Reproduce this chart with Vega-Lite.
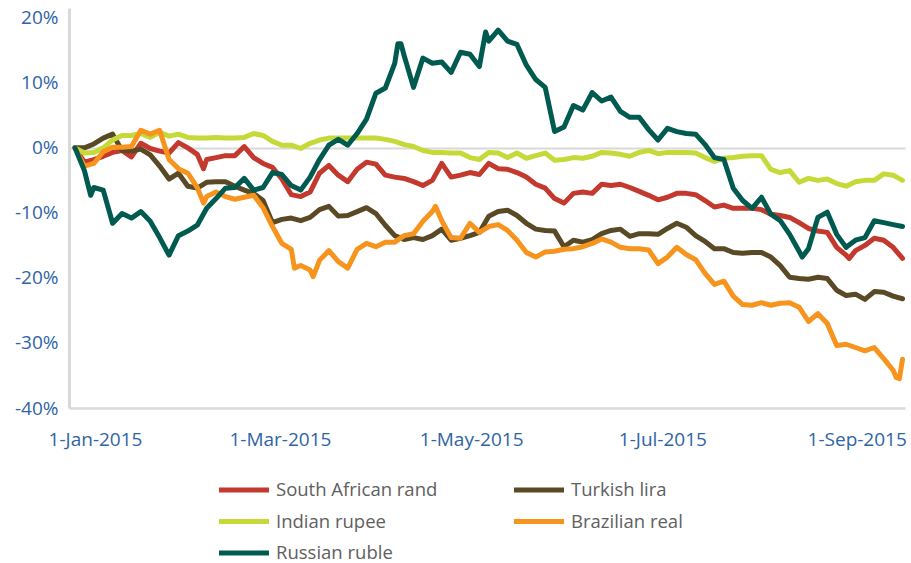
{
  "$schema": "https://vega.github.io/schema/vega-lite/v6.json",
  "autosize": {"type": "none"},
  "width": 836,
  "height": 400,
  "padding": {"left": 69, "top": 8, "right": 6, "bottom": 155},
  "background": "white",
  "config": {"view": {"stroke": null}, "font": "Open Sans"},
  "data": {"values": [
    {"date":"2015-01-01","South African rand":0,"Turkish lira":0,"Indian rupee":0,"Brazilian real":0,"Russian ruble":0},
    {"date":"2015-01-04","South African rand":-2.2,"Turkish lira":0,"Indian rupee":-0.8,"Brazilian real":-2.8,"Russian ruble":-3.5},
    {"date":"2015-01-06","Russian ruble":-7.3},
    {"date":"2015-01-07","South African rand":-1.8,"Turkish lira":0.6,"Indian rupee":-0.7,"Brazilian real":-2.4,"Russian ruble":-6.1},
    {"date":"2015-01-10","South African rand":-1.3,"Turkish lira":1.5,"Indian rupee":0,"Brazilian real":-0.6,"Russian ruble":-6.5},
    {"date":"2015-01-13","South African rand":-0.7,"Turkish lira":2.1,"Indian rupee":1.2,"Brazilian real":0.1,"Russian ruble":-11.6},
    {"date":"2015-01-16","South African rand":-0.4,"Turkish lira":-0.4,"Indian rupee":1.9,"Brazilian real":0.1,"Russian ruble":-10.1},
    {"date":"2015-01-19","South African rand":-1.4,"Turkish lira":-0.5,"Indian rupee":1.9,"Brazilian real":0.2,"Russian ruble":-10.8},
    {"date":"2015-01-22","South African rand":0.7,"Turkish lira":-0.2,"Indian rupee":2.2,"Brazilian real":2.7,"Russian ruble":-9.8},
    {"date":"2015-01-25","South African rand":-0.1,"Turkish lira":-1.1,"Indian rupee":1.6,"Brazilian real":2.1,"Russian ruble":-11.3},
    {"date":"2015-01-28","South African rand":-0.5,"Turkish lira":-2.8,"Indian rupee":2.4,"Brazilian real":2.7,"Russian ruble":-13.8},
    {"date":"2015-01-31","South African rand":-0.8,"Turkish lira":-4.8,"Indian rupee":1.8,"Brazilian real":-1.8,"Russian ruble":-16.5},
    {"date":"2015-02-03","South African rand":0.8,"Turkish lira":-3.9,"Indian rupee":2.1,"Brazilian real":-3.2,"Russian ruble":-13.5},
    {"date":"2015-02-06","South African rand":0,"Turkish lira":-5.9,"Indian rupee":1.6,"Brazilian real":-3.9,"Russian ruble":-12.8},
    {"date":"2015-02-09","South African rand":-1.0,"Turkish lira":-6.2,"Indian rupee":1.5,"Brazilian real":-6.1,"Russian ruble":-11.9},
    {"date":"2015-02-11","South African rand":-3.2,"Brazilian real":-8.5},
    {"date":"2015-02-12","South African rand":-1.8,"Turkish lira":-5.3,"Indian rupee":1.5,"Brazilian real":-7.5,"Russian ruble":-9.3},
    {"date":"2015-02-15","South African rand":-1.5,"Turkish lira":-5.2,"Indian rupee":1.6,"Brazilian real":-6.8,"Russian ruble":-7.8},
    {"date":"2015-02-18","South African rand":-1.2,"Turkish lira":-5.2,"Indian rupee":1.5,"Brazilian real":-7.5,"Russian ruble":-6.2},
    {"date":"2015-02-21","South African rand":-1.2,"Turkish lira":-5.9,"Indian rupee":1.5,"Brazilian real":-7.9,"Russian ruble":-6.1},
    {"date":"2015-02-24","South African rand":0.2,"Turkish lira":-6.5,"Indian rupee":1.6,"Brazilian real":-7.6,"Russian ruble":-4.7},
    {"date":"2015-02-27","South African rand":-1.5,"Turkish lira":-7.0,"Indian rupee":2.2,"Brazilian real":-7.3,"Russian ruble":-6.5},
    {"date":"2015-03-02","South African rand":-2.4,"Turkish lira":-8.1,"Indian rupee":1.9,"Brazilian real":-9.2,"Russian ruble":-6.1},
    {"date":"2015-03-05","South African rand":-3.0,"Turkish lira":-11.5,"Indian rupee":1.0,"Brazilian real":-12.1,"Russian ruble":-3.8},
    {"date":"2015-03-08","South African rand":-4.8,"Turkish lira":-11.0,"Indian rupee":0.4,"Brazilian real":-14.7,"Russian ruble":-4.1},
    {"date":"2015-03-11","South African rand":-7.2,"Turkish lira":-10.8,"Indian rupee":0.4,"Brazilian real":-15.6,"Russian ruble":-5.8},
    {"date":"2015-03-12","Brazilian real":-18.5},
    {"date":"2015-03-14","South African rand":-7.5,"Turkish lira":-11.2,"Indian rupee":-0.1,"Brazilian real":-18.1,"Russian ruble":-6.5},
    {"date":"2015-03-17","South African rand":-6.8,"Turkish lira":-10.7,"Indian rupee":0.7,"Brazilian real":-18.8,"Russian ruble":-4.5},
    {"date":"2015-03-18","Brazilian real":-19.8},
    {"date":"2015-03-20","South African rand":-3.9,"Turkish lira":-9.5,"Indian rupee":1.2,"Brazilian real":-17.3,"Russian ruble":-1.8},
    {"date":"2015-03-23","South African rand":-2.7,"Turkish lira":-9.0,"Indian rupee":1.5,"Brazilian real":-15.8,"Russian ruble":0.4},
    {"date":"2015-03-26","South African rand":-4.2,"Turkish lira":-10.5,"Indian rupee":1.5,"Brazilian real":-17.5,"Russian ruble":1.3},
    {"date":"2015-03-29","South African rand":-5.2,"Turkish lira":-10.4,"Indian rupee":1.5,"Brazilian real":-18.5,"Russian ruble":0.4},
    {"date":"2015-04-01","South African rand":-3.3,"Turkish lira":-9.8,"Indian rupee":1.5,"Brazilian real":-15.6,"Russian ruble":2.2},
    {"date":"2015-04-04","South African rand":-2.2,"Turkish lira":-9.2,"Indian rupee":1.5,"Brazilian real":-14.7,"Russian ruble":4.4},
    {"date":"2015-04-07","South African rand":-2.5,"Turkish lira":-10.1,"Indian rupee":1.5,"Brazilian real":-15.2,"Russian ruble":8.4},
    {"date":"2015-04-10","South African rand":-4.2,"Turkish lira":-11.9,"Indian rupee":1.3,"Brazilian real":-14.5,"Russian ruble":9.2},
    {"date":"2015-04-13","South African rand":-4.5,"Turkish lira":-13.5,"Indian rupee":1.0,"Brazilian real":-14.5,"Russian ruble":13.0},
    {"date":"2015-04-14","Russian ruble":16.0},
    {"date":"2015-04-15","Russian ruble":16.0},
    {"date":"2015-04-16","South African rand":-4.7,"Turkish lira":-14.1,"Indian rupee":0.5,"Brazilian real":-13.5,"Russian ruble":14.2},
    {"date":"2015-04-19","South African rand":-5.2,"Turkish lira":-13.8,"Indian rupee":0.2,"Brazilian real":-13.2,"Russian ruble":9.3},
    {"date":"2015-04-22","South African rand":-5.8,"Turkish lira":-14.1,"Indian rupee":-0.4,"Brazilian real":-11.3,"Russian ruble":13.8},
    {"date":"2015-04-25","South African rand":-5.0,"Turkish lira":-13.5,"Indian rupee":-0.7,"Brazilian real":-9.8,"Russian ruble":13.0},
    {"date":"2015-04-26","Brazilian real":-9.0},
    {"date":"2015-04-28","South African rand":-2.4,"Turkish lira":-12.5,"Indian rupee":-0.7,"Brazilian real":-11.2,"Russian ruble":13.2},
    {"date":"2015-05-01","South African rand":-4.5,"Turkish lira":-14.2,"Indian rupee":-0.8,"Brazilian real":-13.8,"Russian ruble":11.6},
    {"date":"2015-05-04","South African rand":-4.2,"Turkish lira":-13.9,"Indian rupee":-0.8,"Brazilian real":-13.9,"Russian ruble":14.7},
    {"date":"2015-05-07","South African rand":-3.8,"Turkish lira":-13.5,"Indian rupee":-1.5,"Brazilian real":-11.6,"Russian ruble":14.4},
    {"date":"2015-05-10","South African rand":-4.1,"Turkish lira":-13.0,"Indian rupee":-1.8,"Brazilian real":-13.0,"Russian ruble":12.5},
    {"date":"2015-05-11","Russian ruble":15.2},
    {"date":"2015-05-12","Russian ruble":17.8},
    {"date":"2015-05-13","South African rand":-2.4,"Turkish lira":-10.5,"Indian rupee":-0.7,"Brazilian real":-12.1,"Russian ruble":16.4},
    {"date":"2015-05-16","South African rand":-3.2,"Turkish lira":-9.8,"Indian rupee":-0.8,"Brazilian real":-11.8,"Russian ruble":18.1},
    {"date":"2015-05-19","South African rand":-3.3,"Turkish lira":-9.6,"Indian rupee":-1.5,"Brazilian real":-12.7,"Russian ruble":16.4},
    {"date":"2015-05-22","South African rand":-3.8,"Turkish lira":-10.4,"Indian rupee":-0.8,"Brazilian real":-14.2,"Russian ruble":15.9},
    {"date":"2015-05-25","South African rand":-4.5,"Turkish lira":-11.6,"Indian rupee":-1.6,"Brazilian real":-16.1,"Russian ruble":12.7},
    {"date":"2015-05-28","South African rand":-5.6,"Turkish lira":-12.5,"Indian rupee":-1.2,"Brazilian real":-16.8,"Russian ruble":10.5},
    {"date":"2015-05-31","South African rand":-6.2,"Turkish lira":-12.7,"Indian rupee":-0.8,"Brazilian real":-16.0,"Russian ruble":9.3},
    {"date":"2015-06-03","South African rand":-7.8,"Turkish lira":-12.8,"Indian rupee":-1.9,"Brazilian real":-15.9,"Russian ruble":2.5},
    {"date":"2015-06-06","South African rand":-8.5,"Turkish lira":-15.2,"Indian rupee":-1.8,"Brazilian real":-15.6,"Russian ruble":3.2},
    {"date":"2015-06-09","South African rand":-7.0,"Turkish lira":-14.2,"Indian rupee":-1.5,"Brazilian real":-15.5,"Russian ruble":6.5},
    {"date":"2015-06-12","South African rand":-6.8,"Turkish lira":-14.5,"Indian rupee":-1.6,"Brazilian real":-15.2,"Russian ruble":5.8},
    {"date":"2015-06-15","South African rand":-7.0,"Turkish lira":-14.1,"Indian rupee":-1.3,"Brazilian real":-14.7,"Russian ruble":8.5},
    {"date":"2015-06-18","South African rand":-5.6,"Turkish lira":-13.2,"Indian rupee":-0.7,"Brazilian real":-14.0,"Russian ruble":7.2},
    {"date":"2015-06-21","South African rand":-5.8,"Turkish lira":-12.7,"Indian rupee":-0.8,"Brazilian real":-14.5,"Russian ruble":7.8},
    {"date":"2015-06-24","South African rand":-5.6,"Turkish lira":-12.5,"Indian rupee":-1.0,"Brazilian real":-15.3,"Russian ruble":5.6},
    {"date":"2015-06-27","South African rand":-6.1,"Turkish lira":-13.6,"Indian rupee":-1.3,"Brazilian real":-15.5,"Russian ruble":4.7},
    {"date":"2015-06-30","South African rand":-6.7,"Turkish lira":-13.2,"Indian rupee":-0.7,"Brazilian real":-15.5,"Russian ruble":4.7},
    {"date":"2015-07-03","South African rand":-7.3,"Turkish lira":-13.2,"Indian rupee":-0.4,"Brazilian real":-15.7,"Russian ruble":2.8},
    {"date":"2015-07-06","South African rand":-8.0,"Turkish lira":-13.3,"Indian rupee":-0.9,"Brazilian real":-17.8,"Russian ruble":1.2},
    {"date":"2015-07-09","South African rand":-7.6,"Turkish lira":-12.4,"Indian rupee":-0.7,"Brazilian real":-16.8,"Russian ruble":3.0},
    {"date":"2015-07-12","South African rand":-7.0,"Turkish lira":-11.6,"Indian rupee":-0.7,"Brazilian real":-15.3,"Russian ruble":2.5},
    {"date":"2015-07-15","South African rand":-7.0,"Turkish lira":-12.2,"Indian rupee":-0.7,"Brazilian real":-16.4,"Russian ruble":2.2},
    {"date":"2015-07-18","South African rand":-7.2,"Turkish lira":-13.5,"Indian rupee":-0.8,"Brazilian real":-17.2,"Russian ruble":2.1},
    {"date":"2015-07-21","South African rand":-8.1,"Turkish lira":-14.4,"Indian rupee":-1.5,"Brazilian real":-19.3,"Russian ruble":0.5},
    {"date":"2015-07-24","South African rand":-9.1,"Turkish lira":-15.5,"Indian rupee":-2.1,"Brazilian real":-21.0,"Russian ruble":-1.5},
    {"date":"2015-07-27","South African rand":-8.8,"Turkish lira":-15.5,"Indian rupee":-1.6,"Brazilian real":-20.5,"Russian ruble":-1.8},
    {"date":"2015-07-30","South African rand":-9.3,"Turkish lira":-16.1,"Indian rupee":-1.5,"Brazilian real":-22.8,"Russian ruble":-6.2},
    {"date":"2015-08-02","South African rand":-9.3,"Turkish lira":-16.2,"Indian rupee":-1.3,"Brazilian real":-24.1,"Russian ruble":-8.1},
    {"date":"2015-08-05","South African rand":-9.3,"Turkish lira":-16.1,"Indian rupee":-1.2,"Brazilian real":-24.2,"Russian ruble":-9.3},
    {"date":"2015-08-08","South African rand":-9.5,"Turkish lira":-16.1,"Indian rupee":-1.2,"Brazilian real":-23.8,"Russian ruble":-7.6},
    {"date":"2015-08-11","South African rand":-10.2,"Turkish lira":-16.8,"Indian rupee":-3.3,"Brazilian real":-24.2,"Russian ruble":-10.2},
    {"date":"2015-08-14","South African rand":-10.4,"Turkish lira":-18.1,"Indian rupee":-3.8,"Brazilian real":-23.9,"Russian ruble":-11.2},
    {"date":"2015-08-17","South African rand":-10.7,"Turkish lira":-19.9,"Indian rupee":-3.5,"Brazilian real":-23.8,"Russian ruble":-13.3},
    {"date":"2015-08-20","South African rand":-11.5,"Turkish lira":-20.1,"Indian rupee":-5.3,"Brazilian real":-24.5,"Russian ruble":-15.9},
    {"date":"2015-08-21","Russian ruble":-16.8},
    {"date":"2015-08-23","South African rand":-12.4,"Turkish lira":-20.2,"Indian rupee":-4.7,"Brazilian real":-26.7,"Russian ruble":-15.5},
    {"date":"2015-08-26","South African rand":-12.8,"Turkish lira":-19.9,"Indian rupee":-5.0,"Brazilian real":-25.5,"Russian ruble":-10.7},
    {"date":"2015-08-29","South African rand":-13.0,"Turkish lira":-20.1,"Indian rupee":-4.8,"Brazilian real":-27.0,"Russian ruble":-9.9},
    {"date":"2015-09-01","South African rand":-15.3,"Turkish lira":-21.9,"Indian rupee":-5.5,"Brazilian real":-30.4,"Russian ruble":-13.3},
    {"date":"2015-09-04","South African rand":-16.5,"Turkish lira":-22.7,"Indian rupee":-5.9,"Brazilian real":-30.2,"Russian ruble":-15.3},
    {"date":"2015-09-05","South African rand":-17.0},
    {"date":"2015-09-07","South African rand":-15.8,"Turkish lira":-22.5,"Indian rupee":-5.2,"Brazilian real":-30.7,"Russian ruble":-14.2},
    {"date":"2015-09-10","South African rand":-15.0,"Turkish lira":-23.3,"Indian rupee":-5.0,"Brazilian real":-31.2,"Russian ruble":-13.8},
    {"date":"2015-09-13","South African rand":-13.9,"Turkish lira":-22.1,"Indian rupee":-5.0,"Brazilian real":-30.7,"Russian ruble":-11.2},
    {"date":"2015-09-16","South African rand":-14.2,"Turkish lira":-22.2,"Indian rupee":-4.0,"Brazilian real":-32.4,"Russian ruble":-11.5},
    {"date":"2015-09-19","South African rand":-15.3,"Turkish lira":-22.8,"Indian rupee":-4.2,"Brazilian real":-34.2,"Russian ruble":-11.8},
    {"date":"2015-09-20","Brazilian real":-35.3},
    {"date":"2015-09-21","Brazilian real":-35.5},
    {"date":"2015-09-22","South African rand":-17.0,"Turkish lira":-23.2,"Indian rupee":-5.0,"Brazilian real":-32.5,"Russian ruble":-12.1}
  ]},
  "transform": [
    {"fold": ["South African rand", "Turkish lira", "Indian rupee", "Brazilian real", "Russian ruble"], "as": ["series", "value"]},
    {"filter": {"field": "value", "valid": true}}
  ],
  "mark": {"type": "line", "strokeWidth": 5, "strokeJoin": "round", "strokeCap": "round"},
  "encoding": {
    "x": {
      "field": "date", "type": "temporal",
      "scale": {"type": "utc", "domain": [{"year": 2014, "month": 12, "date": 30, "hours": 2, "utc": true}, {"year": 2015, "month": 9, "date": 22, "hours": 19, "utc": true}]},
      "axis": {
        "title": null,
        "values": [{"year": 2015, "month": 1, "date": 1, "utc": true}, {"year": 2015, "month": 3, "date": 1, "utc": true}, {"year": 2015, "month": 5, "date": 1, "utc": true}, {"year": 2015, "month": 7, "date": 1, "utc": true}, {"year": 2015, "month": 9, "date": 1, "utc": true}],
        "labelExpr": "utcFormat(datum.value, '%-d-%b-%Y')",
        "labelFont": "Open Sans", "labelFontSize": 19, "labelColor": "#2F64A6",
        "labelPadding": 22, "labelOffset": 20,
        "labelOverlap": false, "labelFlush": false, "labelBound": false,
        "ticks": false, "grid": false,
        "domainColor": "#D9D9D9", "domainWidth": 2.5
      }
    },
    "y": {
      "field": "value", "type": "quantitative",
      "scale": {"domain": [-40, 21.5], "nice": false, "zero": false},
      "axis": {
        "title": null,
        "values": [-40, -30, -20, -10, 0, 10, 20],
        "labelExpr": "datum.value + '%'",
        "labelFont": "Open Sans", "labelFontSize": 19, "labelColor": "#2F64A6",
        "labelPadding": 11, "ticks": false,
        "domainColor": "#D9D9D9", "domainWidth": 3,
        "grid": true, "gridColor": "#D9D9D9", "gridWidth": 2,
        "gridOpacity": {"condition": {"test": "datum.value === 0", "value": 1}, "value": 0}
      }
    },
    "color": {
      "field": "series", "type": "nominal",
      "scale": {
        "domain": ["South African rand", "Indian rupee", "Russian ruble", "Turkish lira", "Brazilian real"],
        "range": ["#C3392D", "#C5D939", "#005A50", "#594A25", "#F7941E"]
      },
      "legend": {
        "title": null, "orient": "none", "legendX": 165, "legendY": 472,
        "columns": 2, "symbolType": "M-3.5,0H3.5", "symbolSize": 204, "symbolStrokeWidth": 5,
        "labelFont": "Open Sans", "labelFontSize": 18.5, "labelColor": "#606060",
        "labelOffset": 22, "columnPadding": 66, "rowPadding": 11.5, "padding": 0, "labelLimit": 300
      }
    }
  }
}
